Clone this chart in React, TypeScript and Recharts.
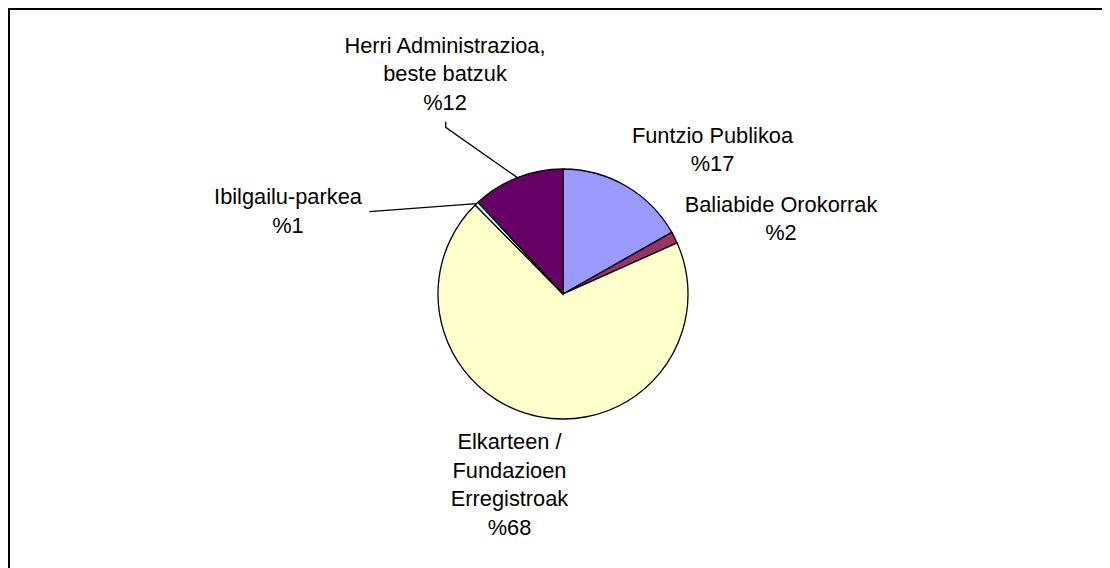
import { PieChart, Pie, Cell } from 'recharts'

// slice order: clockwise from 12 o'clock
const NAMES = [
  'Funtzio Publikoa',
  'Baliabide Orokorrak',
  'Elkarteen / Fundazioen Erregistroak',
  'Ibilgailu-parkea',
  'Herri Administrazioa, beste batzuk',
]
const VALUES = [16.8, 1.5, 69.3, 0.5, 11.9]
const PCT_LABELS = ['%17', '%2', '%68', '%1', '%12']
const LABEL_LINES = [
  ['Funtzio Publikoa'],
  ['Baliabide Orokorrak'],
  ['Elkarteen /', 'Fundazioen', 'Erregistroak'],
  ['Ibilgailu-parkea'],
  ['Herri Administrazioa,', 'beste batzuk'],
]
const COLORS = ['#9999FF', '#993366', '#FFFFCC', '#CCFFFF', '#660066']

// label placement relative to the pie centre (first line centre), plus optional leader start
const LABEL_LAYOUT: { dx: number; dy: number; leader?: [number, number][] }[] = [
  { dx: 149.5, dy: -159 },
  { dx: 218, dy: -90 },
  { dx: -53.5, dy: 147.7 },
  { dx: -275, dy: -97.3, leader: [[-193.7, -82.3]] },
  { dx: -118, dy: -249, leader: [[-117.3, -172.3], [-117.3, -166.7]] },
]

const LINE_H = 28.5
const RADIAN = Math.PI / 180

const data = NAMES.map((name, i) => ({ name, value: VALUES[i] }))

function renderLabel(props: any) {
  const { cx, cy, midAngle, outerRadius, index } = props
  const lay = LABEL_LAYOUT[index]
  const ex = cx + outerRadius * Math.cos(-midAngle * RADIAN)
  const ey = cy + outerRadius * Math.sin(-midAngle * RADIAN)
  const lines = [...LABEL_LINES[index], PCT_LABELS[index]]
  const tx = cx + lay.dx
  let leader = null
  if (lay.leader) {
    const pts = [...lay.leader.map(([x, y]) => `${cx + x},${cy + y}`), `${ex},${ey}`].join(' ')
    leader = <polyline points={pts} fill="none" stroke="#000" strokeWidth={1.3} />
  }
  return (
    <g key={`lbl-${index}`}>
      {leader}
      <text
        x={tx}
        textAnchor="middle"
        fill="#000"
        fontSize={21.8}
        fontFamily="'Liberation Sans', Arial, sans-serif"
      >
        {lines.map((l, i) => (
          <tspan key={i} x={tx} y={cy + lay.dy + i * LINE_H} dominantBaseline="central">
            {l}
          </tspan>
        ))}
      </text>
    </g>
  )
}

export default function App() {
  return (
    <div
      style={{
        width: 1102,
        height: 560,
        boxSizing: 'border-box',
        borderTop: '2px solid #000',
        borderLeft: '2px solid #000',
        background: '#fff',
        overflow: 'hidden',
      }}
    >
      <PieChart width={1100} height={558} margin={{ top: 0, right: 0, bottom: 0, left: 0 }}>
        <Pie
          data={data}
          dataKey="value"
          nameKey="name"
          cx={553}
          cy={284}
          outerRadius={125}
          startAngle={90}
          endAngle={-270}
          stroke="#000"
          strokeWidth={1.3}
          label={renderLabel}
          labelLine={false}
          isAnimationActive={false}
        >
          {data.map((d, i) => (
            <Cell key={d.name} fill={COLORS[i]} />
          ))}
        </Pie>
      </PieChart>
    </div>
  )
}
